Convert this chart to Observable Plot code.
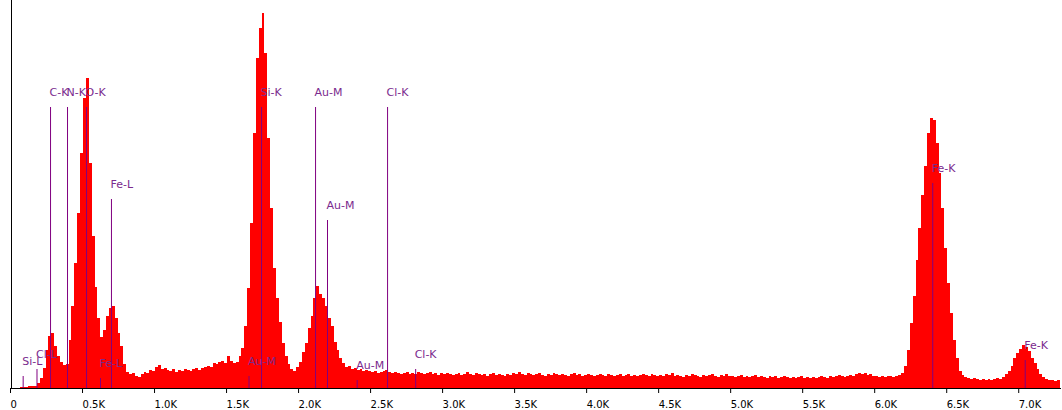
<!DOCTYPE html>
<html>
<head>
<meta charset="utf-8">
<script src="https://cdn.jsdelivr.net/npm/d3@7"></script>
<script src="https://cdn.jsdelivr.net/npm/@observablehq/plot@0.6"></script>
<style>
  html, body { margin: 0; padding: 0; background: #ffffff; }
  #chart { width: 1062px; height: 410px; overflow: hidden; }
</style>
</head>
<body>
<div id="chart"></div>
<script>
// Channel grid of the spectrum (keV)
const channelWidth = 0.02;

// Counts per 0.02 keV channel (arbitrary units)
const counts = [
  0,0,0,1,1,1,2,2,2,5,
  10,20,38,52,55,42,32,26,23,24,
  48,82,125,175,235,290,310,225,152,101,
  70,51,58,72,80,82,70,55,42,24,
  16,14,15,12,11,14,16,15,18,17,
  21,23,19,20,18,17,19,16,18,17,
  19,18,17,19,20,18,20,21,22,21,
  25,24,26,27,25,32,27,25,26,32,
  40,62,100,165,255,330,360,375,335,250,
  180,120,90,66,45,32,24,19,17,21,
  26,36,45,60,72,90,102,94,90,82,
  70,62,46,38,30,25,21,22,19,20,
  18,19,17,18,17,16,17,15,16,17,
  18,16,15,16,15,14,15,16,14,15,
  14,16,15,14,15,16,14,15,13,15,
  14,15,14,13,14,15,13,14,16,14,
  13,15,14,13,14,12,14,15,13,14,
  13,12,14,13,15,14,16,14,13,15,
  14,13,14,15,13,12,14,13,15,14,
  13,14,13,12,14,15,13,14,12,13,
  14,13,12,13,14,13,12,14,13,12,
  13,14,12,13,14,12,13,12,13,14,
  13,12,14,13,12,13,12,14,13,15,
  12,13,12,11,13,12,14,13,12,11,
  13,12,13,14,12,11,13,12,14,12,
  12,11,12,13,11,12,11,12,13,11,
  12,11,10,12,11,12,10,11,12,11,
  10,11,10,11,12,10,11,10,11,10,
  11,12,11,10,12,11,12,13,12,11,
  12,13,12,14,15,14,15,13,14,12,
  12,11,12,11,12,12,11,12,13,15,
  22,38,65,92,128,160,193,222,255,270,
  268,245,215,180,140,105,75,48,30,17,
  13,11,10,9,10,9,8,9,8,9,
  8,9,10,9,11,14,17,22,30,35,
  39,43,41,37,30,25,19,14,11,9,
  8,8,7,8
];

// Peak identification markers
const markerLabels  = ["Si-L","Cl-L","C-K","N-K","O-K","Fe-L","Fe-L","Au-M","Si-K","Au-M","Au-M","Au-M","Cl-K","Cl-K","Fe-K","Fe-K"];
const markerEnergy  = [0.081,0.177,0.271,0.389,0.521,0.618,0.694,1.649,1.736,2.111,2.194,2.400,2.611,2.806,6.396,7.038];
const markerHeight  = [12,19,281,281,281,10,189,12,281,281,168,8,281,19,205,28];

// Axis ticks
const tickValues = [0,0.5,1.0,1.5,2.0,2.5,3.0,3.5,4.0,4.5,5.0,5.5,6.0,6.5,7.0];
const tickLabels = ["0","0.5K","1.0K","1.5K","2.0K","2.5K","3.0K","3.5K","4.0K","4.5K","5.0K","5.5K","6.0K","6.5K","7.0K"];

// Build tables for the library
const spectrum = counts.map((c, i) => ({e: i * channelWidth, c}));
spectrum.push({e: counts.length * channelWidth, c: counts[counts.length - 1]});
const markers = markerLabels.map((label, i) => ({label, e: markerEnergy[i], h: markerHeight[i]}));

const chart = Plot.plot({
  width: 1062,
  height: 410,
  marginLeft: 11,
  marginRight: 1,
  marginTop: 0,
  marginBottom: 22,
  style: {fontFamily: "DejaVu Sans", fontSize: "10px", background: "#ffffff", color: "#000000"},
  x: {domain: [0, 7.29], axis: null, label: null},
  y: {domain: [0, 388], axis: null, label: null},
  marks: [
    Plot.areaY(spectrum, {x: "e", y: "c", curve: "step-after", fill: "#ff0000", shapeRendering: "crispEdges"}),
    Plot.ruleX(markers, {x: "e", y1: 0, y2: "h", stroke: "#800080", strokeWidth: 1}),
    Plot.text(markers, {x: "e", y: "h", text: "label", dy: -15, dx: -1, textAnchor: "start", fill: "#7b2a8e", fontSize: 11}),
    Plot.ruleY([0], {stroke: "#000000"}),
    Plot.ruleX([0], {stroke: "#000000"}),
    Plot.axisX(tickValues, {
      label: null,
      tickSize: 5,
      tickPadding: 7,
      textAnchor: "start",
      dx: -1,
      tickFormat: d => tickLabels[tickValues.indexOf(d)]
    })
  ]
});
document.getElementById("chart").appendChild(chart);
</script>
</body>
</html>
